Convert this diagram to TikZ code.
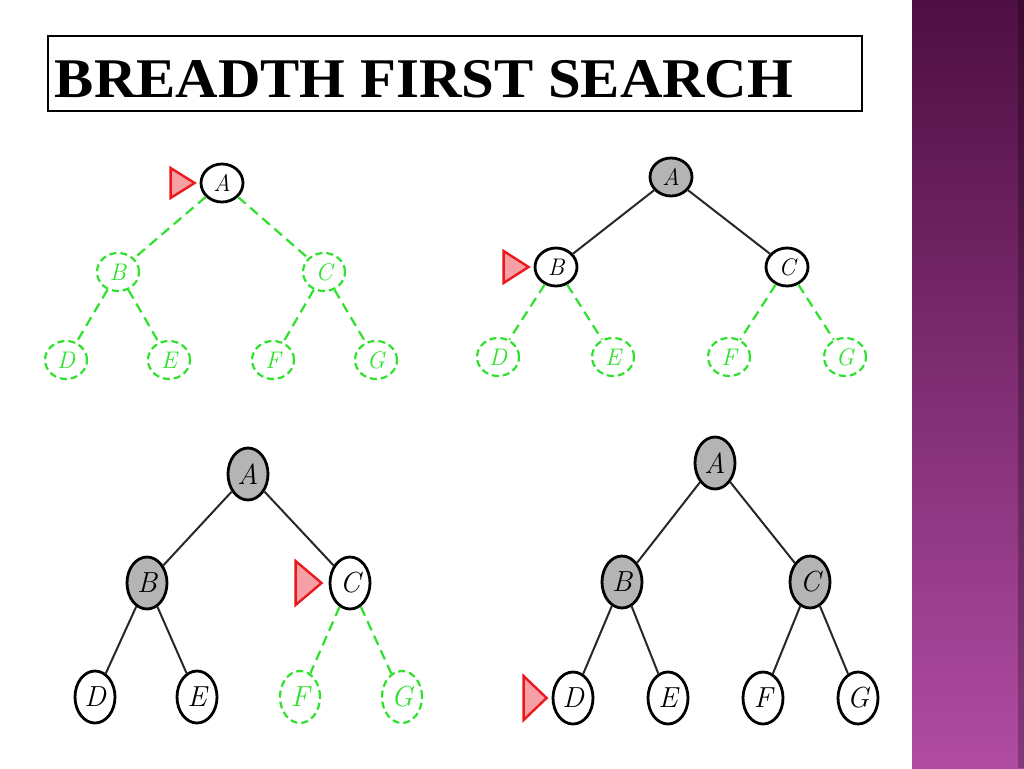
\documentclass[tikz,border=0pt]{standalone}
\usepackage{fontspec}
\newfontfamily\titlefont{Liberation Serif}
\usetikzlibrary{shapes.geometric}
\definecolor{seen}{RGB}{180,180,180}
\definecolor{leafgreen}{RGB}{45,225,45}
\definecolor{edgegray}{RGB}{40,40,40}
\definecolor{pointred}{RGB}{235,25,30}
\definecolor{pointpink}{RGB}{245,160,165}
\definecolor{barTop}{RGB}{78,15,66}
\definecolor{barMid}{RGB}{125,40,113}
\definecolor{barBottom}{RGB}{176,76,163}
\begin{document}
\begin{tikzpicture}[x=1pt,y=-1pt,
  open/.style={ellipse, draw=black, line width=2.8pt, fill=white, inner sep=0pt},
  done/.style={open, fill=seen},
  unseen/.style={ellipse, draw=leafgreen, line width=2.2pt, dash pattern=on 7pt off 4pt, text=leafgreen, inner sep=0pt},
  upper/.style={minimum width=42pt, minimum height=38pt, font=\fontsize{24}{28}\selectfont\itshape},
  lower/.style={minimum width=40pt, minimum height=52pt, font=\fontsize{29}{33}\selectfont\itshape},
  link/.style={line width=2pt, draw=edgegray},
  todo/.style={line width=2.2pt, draw=leafgreen, dash pattern=on 10pt off 6pt},
  pointer/.style={draw=pointred, fill=pointpink, line width=2.4pt, line join=miter},
  titlebox/.style={draw, line width=1.6pt, anchor=north west, minimum width=814, minimum height=75,
    inner xsep=7, inner ysep=0, text height=48, text depth=0, align=left, text width=800}
]
\useasboundingbox (0,0) rectangle (1024,768);
\fill[white] (0,0) rectangle (1024,768);

% side bar
\shade[top color=barTop, middle color=barMid, bottom color=barBottom] (912,0) rectangle (1024,768);
\fill[black, opacity=0.25] (1018,0) rectangle (1024,768);

% title
\node[titlebox] (title) at (47,35) {\titlefont\bfseries\fontsize{56}{60}\selectfont\scalebox{1.05}[1]{BREADTH\hspace{0.25em}FIRST\hspace{0.25em}SEARCH}};

% step 1: only A reached
\node[open, upper] (a1) at (222,183) {A};
\node[unseen, upper] (b1) at (118,272) {B};
\node[unseen, upper] (c1) at (324,272) {C};
\node[unseen, upper] (d1) at (66,360) {D};
\node[unseen, upper] (e1) at (169,360) {E};
\node[unseen, upper] (f1) at (273,360) {F};
\node[unseen, upper] (g1) at (376,360) {G};
\draw[todo] (a1) -- (b1);
\draw[todo] (a1) -- (c1);
\draw[todo] (b1) -- (d1);
\draw[todo] (b1) -- (e1);
\draw[todo] (c1) -- (f1);
\draw[todo] (c1) -- (g1);
\draw[pointer] ([xshift=-5]a1.west) -- ++(-24,15) -- ++(0,-30) -- cycle;

% step 2: A expanded
\node[done, upper] (a2) at (671,177) {A};
\node[open, upper] (b2) at (556,267) {B};
\node[open, upper] (c2) at (787,267) {C};
\node[unseen, upper] (d2) at (498,357) {D};
\node[unseen, upper] (e2) at (613,357) {E};
\node[unseen, upper] (f2) at (729,357) {F};
\node[unseen, upper] (g2) at (845,357) {G};
\draw[link] (a2) -- (b2);
\draw[link] (a2) -- (c2);
\draw[todo] (b2) -- (d2);
\draw[todo] (b2) -- (e2);
\draw[todo] (c2) -- (f2);
\draw[todo] (c2) -- (g2);
\draw[pointer] ([xshift=-5]b2.west) -- ++(-25,16) -- ++(0,-32) -- cycle;

% step 3: B expanded
\node[done, lower] (a3) at (248,474) {A};
\node[done, lower] (b3) at (147,583) {B};
\node[open, lower] (c3) at (350,583) {C};
\node[open, lower] (d3) at (95,697) {D};
\node[open, lower] (e3) at (197,697) {E};
\node[unseen, lower] (f3) at (300,697) {F};
\node[unseen, lower] (g3) at (402,697) {G};
\draw[link] (a3) -- (b3);
\draw[link] (a3) -- (c3);
\draw[link] (b3) -- (d3);
\draw[link] (b3) -- (e3);
\draw[todo] (c3) -- (f3);
\draw[todo] (c3) -- (g3);
\draw[pointer] ([xshift=-7]c3.west) -- ++(-26,22) -- ++(0,-44) -- cycle;

% step 4: C expanded
\node[done, lower] (a4) at (715,463) {A};
\node[done, lower] (b4) at (622,582) {B};
\node[done, lower] (c4) at (810,582) {C};
\node[open, lower] (d4) at (573,698) {D};
\node[open, lower] (e4) at (668,698) {E};
\node[open, lower] (f4) at (763,698) {F};
\node[open, lower] (g4) at (858,698) {G};
\draw[link] (a4) -- (b4);
\draw[link] (a4) -- (c4);
\draw[link] (b4) -- (d4);
\draw[link] (b4) -- (e4);
\draw[link] (c4) -- (f4);
\draw[link] (c4) -- (g4);
\draw[pointer] ([xshift=-5]d4.west) -- ++(-23,22) -- ++(0,-44) -- cycle;
\end{tikzpicture}
\end{document}
